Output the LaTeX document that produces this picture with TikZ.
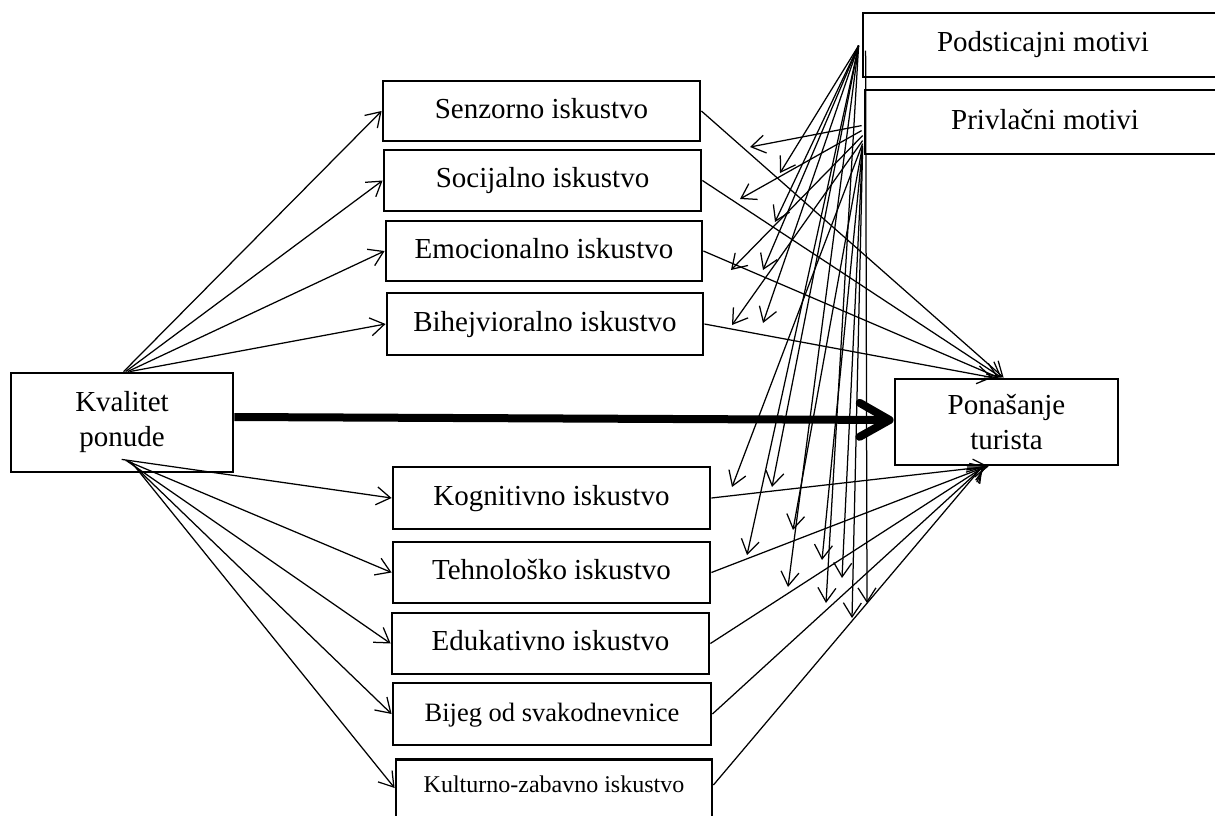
\documentclass[tikz,border=0pt]{standalone}
\usepackage{fontspec}
\setmainfont{Liberation Serif}
\usetikzlibrary{arrows.meta,calc}

\tikzset{
  box/.style={draw, line width=2.8pt, rectangle, inner sep=0pt,
    minimum width=317pt, minimum height=61pt,
    text height=20pt, text depth=6pt,
    font=\fontsize{29pt}{35pt}\selectfont},
  twoline/.style={box, text height=, text depth=, align=center},
  conn/.style={line width=1.25pt, -{Straight Barb[length=14pt,width=18pt]}},
  main/.style={line width=8pt, -{Straight Barb[length=30pt,width=34pt,round]}}
}

\begin{document}
\begin{tikzpicture}[x=1pt,y=-1pt]
\clip (0,0) rectangle (1215,816);
\fill[white] (0,0) rectangle (1215,816);

% central nodes
\node[twoline, minimum width=222pt, minimum height=99pt] (kv) at (122,422.5) {Kvalitet\\ponude};
\node[twoline, minimum width=223pt, minimum height=86pt] (pon) at (1006.5,422) {Ponašanje\\turista};

% motive boxes
\node[box, minimum width=360pt, minimum height=64pt] (pod) at (1043,45) {Podsticajni motivi};
\node[box, minimum width=360pt, minimum height=64pt] (pri) at (1045,122) {Privlačni motivi};

% experience boxes above the main arrow
\node[box, minimum height=60pt] (sen) at (541.5,111) {Senzorno iskustvo};
\node[box] (soc) at (542.5,180.5) {Socijalno iskustvo};
\node[box, minimum width=316pt, minimum height=60pt] (emo) at (544,251) {Emocionalno iskustvo};
\node[box, minimum width=316pt, minimum height=62pt] (bih) at (545,324) {Bihejvioralno iskustvo};

% experience boxes below the main arrow
\node[box, minimum height=62pt] (kog) at (551.5,498) {Kognitivno iskustvo};
\node[box] (teh) at (551.5,572.5) {Tehnološko iskustvo};
\node[box] (edu) at (550.5,643.5) {Edukativno iskustvo};
\node[box, minimum width=318pt, minimum height=62pt, font=\fontsize{26.5pt}{32pt}\selectfont] (bij) at (552,714) {Bijeg od svakodnevnice};
\node[box, anchor=north, minimum width=316pt, minimum height=0pt,
      text height=33pt, text depth=40pt,
      font=\fontsize{24pt}{28pt}\selectfont] (kul) at (554,758) {Kulturno-zabavno iskustvo};

% main effect
\draw[main] ([yshift=5.5pt]kv.east) -- ([yshift=2pt]pon.west);

% quality of offer -> experiences
\draw[conn] ([xshift=114pt]kv.north west) -- (sen.west);
\draw[conn] ([xshift=116pt]kv.north west) -- (soc.west);
\draw[conn] ([xshift=118pt]kv.north west) -- (emo.west);
\draw[conn] ([xshift=120pt]kv.north west) -- (bih.west);
\draw[conn] ([xshift=112pt,yshift=14pt]kv.south west) -- (kog.west);
\draw[conn] ([xshift=116pt,yshift=13pt]kv.south west) -- (teh.west);
\draw[conn] ([xshift=118pt,yshift=12pt]kv.south west) -- (edu.west);
\draw[conn] ([xshift=120pt,yshift=12pt]kv.south west) -- (bij.west);
\draw[conn] ([xshift=122pt,yshift=11pt]kv.south west) -- ($(kul.north west)+(0,30)$);

% experiences -> tourist behaviour
\draw[conn] (sen.east) -- ($(pon.north west)+(110,0)$);
\draw[conn] (soc.east) -- ($(pon.north west)+(108,0)$);
\draw[conn] (emo.east) -- ($(pon.north west)+(105,0)$);
\draw[conn] (bih.east) -- ($(pon.north west)+(99,0)$);
\draw[conn] (kog.east) -- ($(pon.south west)+(95,0)$);
\draw[conn] (teh.east) -- ($(pon.south west)+(93,0)$);
\draw[conn] (edu.east) -- ($(pon.south west)+(91,0)$);
\draw[conn] (bij.east) -- ($(pon.south west)+(90,0)$);
\draw[conn] ($(kul.north east)+(0,27)$) -- ($(pon.south west)+(89,0)$);

% motive sources
\coordinate (po) at ($(pod.north west)+(-3,34)$);
\coordinate (po2) at ($(pod.north west)+(4,39)$);

% motive arrow tips
\coordinate (t1) at (750,147);  \coordinate (t2) at (780,173);
\coordinate (t3) at (740,199);  \coordinate (t4) at (775,222);
\coordinate (t5) at (731,270);  \coordinate (t6) at (763,270);
\coordinate (t7) at (732,325);  \coordinate (t8) at (763,323);
\coordinate (t9) at (732,487);  \coordinate (t10) at (772,487);
\coordinate (t11) at (747,555); \coordinate (t12) at (793,530);
\coordinate (t13) at (788,587); \coordinate (t14) at (822,560);
\coordinate (t15) at (826,603); \coordinate (t16) at (842,578);
\coordinate (t17) at (867,603); \coordinate (t18) at (852,618);

% motives -> experiences
\draw[conn] ($(pri.north west)+(-2,37)$) -- (t1);
\draw[conn] (po) -- (t2);
\draw[conn] ($(pri.north west)+(-2,42)$) -- (t3);
\draw[conn] (po) -- (t4);
\draw[conn] ($(pri.north west)+(-1,47)$) -- (t5);
\draw[conn] (po) -- (t6);
\draw[conn] ($(pri.north west)+(-1,52)$) -- (t7);
\draw[conn] (po) -- (t8);
\draw[conn] ($(pri.north west)+(-1,55)$) -- (t9);
\draw[conn] (po) -- (t10);
\draw[conn] (po) -- (t11);
\draw[conn] ($(pri.north west)+(-1,57)$) -- (t12);
\draw[conn] (po) -- (t13);
\draw[conn] ($(pri.north west)+(-1,58)$) -- (t14);
\draw[conn] (po) -- (t15);
\draw[conn] ($(pri.north west)+(-1,59)$) -- (t16);
\draw[conn] (po2) -- (t17);
\draw[conn] ($(pri.north west)+(-1,60)$) -- (t18);
\end{tikzpicture}
\end{document}
